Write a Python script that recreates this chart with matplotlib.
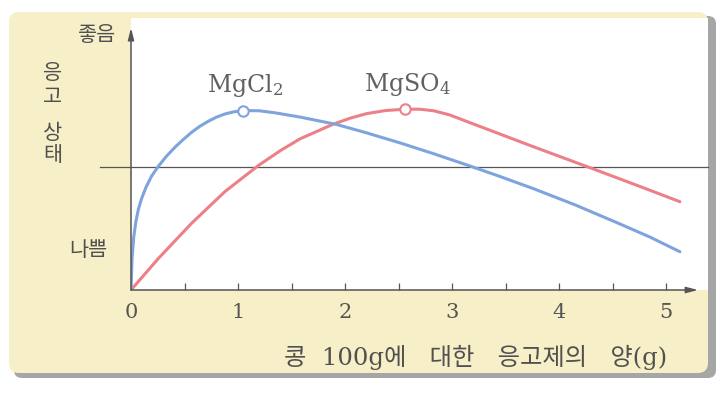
import numpy as np
import matplotlib
matplotlib.use("Agg")
import matplotlib.pyplot as plt
from matplotlib.patches import FancyBboxPatch, Rectangle

# 응고제 양 (g) 과 응고 상태 (0 = 축, 10 = 축 끝)
mgcl2_x = [0, 0.01, 0.025, 0.045, 0.07, 0.1, 0.14, 0.19, 0.255, 0.33, 0.411,
           0.49, 0.567, 0.64, 0.722, 0.8, 0.879, 0.96, 1.05, 1.2, 1.35, 1.58,
           1.92, 2.2, 2.51, 2.83, 3.17, 3.45, 3.76, 4.15, 4.57, 4.85, 5.13]
mgcl2_y = [0, 1.2, 2.0, 2.6, 3.1, 3.5, 3.92, 4.33, 4.72, 5.1, 5.45,
           5.75, 6.02, 6.24, 6.44, 6.6, 6.72, 6.8, 6.85, 6.84, 6.76, 6.6,
           6.32, 6.0, 5.62, 5.2, 4.73, 4.33, 3.87, 3.25, 2.52, 2.02, 1.46]

mgso4_x = [0, 0.255, 0.567, 0.879, 1.19, 1.4, 1.58, 1.89, 2.05, 2.2, 2.38,
           2.56, 2.7, 2.83, 2.98, 3.14, 3.45, 3.76, 4.07, 4.38, 4.79, 5.13]
mgso4_y = [0, 1.2, 2.55, 3.76, 4.75, 5.33, 5.77, 6.33, 6.56, 6.73, 6.85,
           6.9, 6.9, 6.84, 6.68, 6.43, 5.95, 5.47, 5.0, 4.53, 3.9, 3.37]

peak_x = [1.05, 2.56]
peak_y = [6.85, 6.9]
peak_names = ["MgCl$_2$", "MgSO$_4$"]

기준선 = 4.7
x_ticks = [0, 1, 2, 3, 4, 5]
x_minor = [0.5, 1.5, 2.5, 3.5, 4.5]

BLUE = "#7fa4dd"
RED = "#ec8088"
GRAY = "#505050"
YELLOW = "#f7efc7"

plt.rcParams["font.family"] = ["DejaVu Serif", "Noto Sans CJK KR"]
plt.rcParams["mathtext.fontset"] = "dejavuserif"

fig = plt.figure(figsize=(7.2, 3.99), dpi=100)
fig.patch.set_facecolor("white")

# 배경 (픽셀 좌표)
bg = fig.add_axes([0, 0, 1, 1], zorder=0)
bg.set_xlim(0, 720)
bg.set_ylim(399, 0)
bg.axis("off")
bg.add_patch(FancyBboxPatch((14, 16), 702, 362, boxstyle="round,pad=0,rounding_size=8",
                            fc="#a6a6a6", ec="none"))
bg.add_patch(FancyBboxPatch((9, 12), 699, 361, boxstyle="round,pad=0,rounding_size=10",
                            fc=YELLOW, ec="none"))
bg.add_patch(Rectangle((131, 18), 577, 272, fc="white", ec="none"))

# 그래프
ax = fig.add_axes([131 / 720, 1 - 290 / 399, 577 / 720, 262 / 399], zorder=1)
ax.patch.set_alpha(0)
for s in ax.spines.values():
    s.set_visible(False)
ax.set_xlim(0, 577 / 107)
ax.set_ylim(0, 10)

ax.plot([-0.29, 577 / 107], [기준선, 기준선], color="#555555", lw=0.9, clip_on=False)
ax.plot(mgso4_x, mgso4_y, color=RED, lw=2.2, solid_capstyle="round", solid_joinstyle="round")
ax.plot(mgcl2_x, mgcl2_y, color=BLUE, lw=2.2, solid_capstyle="round", solid_joinstyle="round")
ax.plot(peak_x[0], peak_y[0], "o", ms=7.5, mfc="white", mec=BLUE, mew=1.5)
ax.plot(peak_x[1], peak_y[1], "o", ms=7.5, mfc="white", mec=RED, mew=1.5)
for px, py, name in zip(peak_x, peak_y, peak_names):
    ax.text(px + 0.02, py + 0.95, name, ha="center", va="center",
            fontsize=17, color="#606060")

# 축 화살표
arrow = dict(arrowstyle="-|>,head_length=0.7,head_width=0.18", color="#555555",
             lw=1.1, shrinkA=0, shrinkB=0)
ax.annotate("", xy=(5.3, 0), xytext=(0, 0), arrowprops=arrow, annotation_clip=False)
ax.annotate("", xy=(0, 10), xytext=(0, 0), arrowprops=arrow, annotation_clip=False)

ax.set_xticks(x_ticks)
ax.set_xticks(x_minor, minor=True)
ax.set_xticklabels([str(t) for t in x_ticks])
ax.tick_params(axis="x", which="both", direction="in", length=5, width=0.9,
               color="#555555", labelsize=15, labelcolor="#555555", pad=9)
ax.set_yticks([])
ax.get_xticklabels()[0].set_x(-0.07)

# 세로축 글자
ax.text(-0.32, 9.73, "좋음", ha="center", va="center", fontsize=15,
        color=GRAY, family="Noto Sans CJK KR")
ax.text(-0.40, 1.53, "나쁨", ha="center", va="center", fontsize=15,
        color=GRAY, family="Noto Sans CJK KR")
for ch, yy in zip("응고상태", [8.3, 7.35, 6.0, 5.15]):
    ax.text(-0.73, yy, ch, ha="center", va="center", fontsize=15,
            color=GRAY, family="Noto Sans CJK KR")

fig.text(667 / 720, 1 - 357 / 399, "콩  100g에   대한   응고제의   양(g)", ha="right", va="center",
         fontsize=17.5, color=GRAY)

fig.savefig("out.png", dpi=100)
